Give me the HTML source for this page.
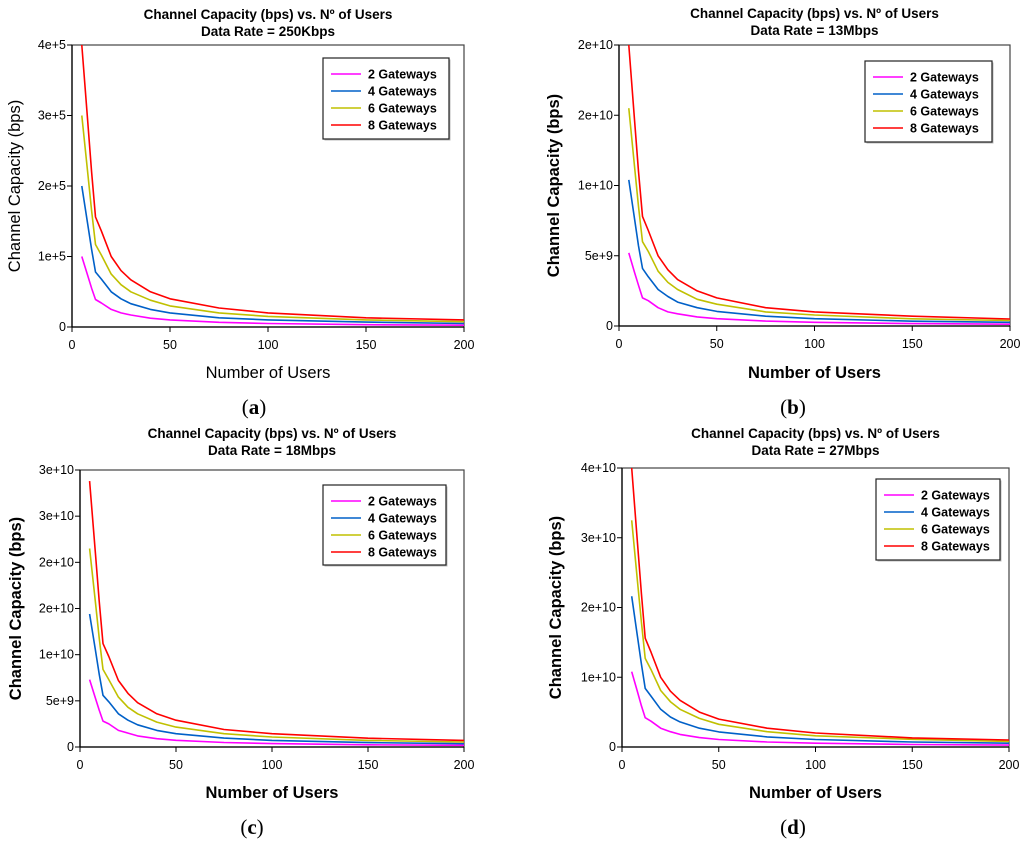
<!DOCTYPE html>
<html><head><meta charset="utf-8">
<style>
html,body{margin:0;padding:0;background:#fff;}
svg{display:block;font-family:"Liberation Sans",Arial,sans-serif;}
</style></head>
<body>
<svg id="fig" width="1024" height="842" viewBox="0 0 1024 842" xmlns="http://www.w3.org/2000/svg"></svg>
<script>
const users = [5,8,10,12,15,20,25,30,40,50,75,100,150,200];
const seriesNames = ["2 Gateways","4 Gateways","6 Gateways","8 Gateways"];
const xTicks = [0,50,100,150,200];
// panel (a) values in 1e3 bps
const a2 = [100,73,55,39,34,25,20,17,12.5,10,6.7,5,3.3,2.5];
const a4 = [200,146,110,78,68,50,40,33,25,20,13,10,7,5];
const a6 = [300,219,165,117,102,75,60,50,38,30,20,15,10,7.5];
const a8 = [400,292,220,156,136,100,80,67,50,40,27,20,13,10];
const aTickVals = [0,100,200,300,400];
const aTickLabels = ["0","1e+5","2e+5","3e+5","4e+5"];
// panel (b) values in 1e8 bps
const b2 = [52,38,29,20,18,13,10,8.7,6.5,5.2,3.5,2.6,1.7,1.3];
const b4 = [104,76,57,41,35,26,21,17,13,10.4,7,5.2,3.4,2.6];
const b6 = [155,113,85,60,53,39,31,26,19,15.5,10,7.8,5.1,3.9];
const b8 = [200,146,110,78,68,50,40,33,25,20,13,10,7,5];
const bTickVals = [0,50,100,150,200];
const bTickLabels = ["0","5e+9","1e+10","2e+10","2e+10"];
// panel (c) values in 1e8 bps
const c2 = [73,53,40,28,25,18,15,12,9,7.3,4.9,3.7,2.4,1.8];
const c4 = [144,105,79,56,49,36,29,24,18,14.4,9.6,7.2,4.8,3.6];
const c6 = [215,157,118,84,73,54,43,36,27,21.5,14.4,10.8,7.1,5.4];
const c8 = [288,210,158,112,98,72,58,48,36,29,19,14.4,9.5,7.2];
const cTickVals = [0,50,100,150,200,250,300];
const cTickLabels = ["0","5e+9","1e+10","2e+10","2e+10","3e+10","3e+10"];
// panel (d) values in 1e8 bps
const d2 = [108,79,59,42,37,27,22,18,13.5,10.8,7.2,5.4,3.6,2.7];
const d4 = [216,158,119,84,73,54,43,36,27,21.6,14.5,10.8,7.1,5.4];
const d6 = [325,237,179,127,111,81,65,54,41,32.5,22,16,11,8];
const d8 = [400,292,220,156,136,100,80,67,50,40,27,20,13,10];
const dTickVals = [0,100,200,300,400];
const dTickLabels = ["0","1e+10","2e+10","3e+10","4e+10"];

const colors = ["#ff00ff","#0060c8","#c0c000","#ff0000"];
const NS = "http://www.w3.org/2000/svg";
const svg = document.getElementById("fig");
function mk(tag, attrs, parent, text){
  const e = document.createElementNS(NS, tag);
  for (const k in attrs) e.setAttribute(k, attrs[k]);
  if (text !== undefined) e.textContent = text;
  (parent||svg).appendChild(e);
  return e;
}
const panels = [
  {id:"a", rate:"250Kbps", L:72,R:464,T:45,B:327, ymax:400, tv:aTickVals, tl:aTickLabels, s:[a2,a4,a6,a8], leg:[323,58,126,81], boldY:false, tY:14, xlY:378, capX:254, capY:414, ylX:20},
  {id:"b", rate:"13Mbps", L:619,R:1010,T:45,B:326, ymax:200, tv:bTickVals, tl:bTickLabels, s:[b2,b4,b6,b8], leg:[865,61,127,81], boldY:true, tY:13, xlY:378, capX:793, capY:414, ylX:559},
  {id:"c", rate:"18Mbps", L:80,R:464,T:470,B:747, ymax:300, tv:cTickVals, tl:cTickLabels, s:[c2,c4,c6,c8], leg:[323,485,123,80], boldY:true, tY:433, xlY:798, capX:252, capY:834, ylX:21},
  {id:"d", rate:"27Mbps", L:622,R:1009,T:468,B:747, ymax:400, tv:dTickVals, tl:dTickLabels, s:[d2,d4,d6,d8], leg:[876,479,124,81], boldY:true, tY:433, xlY:798, capX:793, capY:834, ylX:561}
];
panels.forEach(p=>{
  const g = mk("g",{});
  
  
  const xs = v => p.L + (v/200)*(p.R-p.L);
  const ys = v => p.B - (v/p.ymax)*(p.B-p.T);
  const cx = (p.L+p.R)/2;
  const t1 = mk("text",{x:cx,y:p.tY+5,"text-anchor":"middle","font-size":"13.5","font-weight":"bold"},g,"Channel Capacity (bps) vs. Nº of Users");
  
  
  const t2 = mk("text",{x:cx,y:p.tY+22,"text-anchor":"middle","font-size":"13.5","font-weight":"bold"},g,"Data Rate = "+p.rate);
  
  
  mk("rect",{x:p.L,y:p.T,width:p.R-p.L,height:p.B-p.T,fill:"none",stroke:"#444","stroke-width":"1.2"},g);
  mk("line",{x1:p.L,y1:p.T,x2:p.L,y2:p.B,stroke:"#000","stroke-width":"1.3"},g);
  mk("line",{x1:p.L,y1:p.B,x2:p.R,y2:p.B,stroke:"#000","stroke-width":"1.3"},g);
  p.tv.forEach((v,i)=>{
    const y = ys(v);
    mk("line",{x1:p.L-5,y1:y,x2:p.L,y2:y,stroke:"#000"},g);
    const t = mk("text",{x:p.L-6,y:y+4,"text-anchor":"end","font-size":"12.5"},g,p.tl[i]);
    
    
  });
  xTicks.forEach(v=>{
    const x = xs(v);
    mk("line",{x1:x,y1:p.B,x2:x,y2:p.B+5,stroke:"#000"},g);
    const t = mk("text",{x:x,y:p.B+22,"text-anchor":"middle","font-size":"12.5"},g,String(v));
    
    
  });
  const xl = mk("text",{x:cx,y:p.xlY,"text-anchor":"middle","font-size":"16.5","font-weight":p.boldY?"bold":"normal"},g,"Number of Users");
  
  
  const ymid=(p.T+p.B)/2;
  const yl = mk("text",{x:p.ylX,y:ymid,"text-anchor":"middle","font-size":"16.5","font-weight":p.boldY?"bold":"normal",transform:"rotate(-90 "+p.ylX+" "+ymid+")"},g,"Channel Capacity (bps)");
  
  
  p.s.forEach((arr,si)=>{
    const pts = arr.map((v,i)=>xs(users[i]).toFixed(1)+","+ys(v).toFixed(1)).join(" ");
    const pl = mk("polyline",{points:pts,fill:"none",stroke:colors[si],"stroke-width":"1.6","stroke-linejoin":"round"},g);
    
    
  });
  const [lx,ly,lw,lh] = p.leg;
  const lg = mk("g",{},g);
  
  
  mk("rect",{x:lx+1.5,y:ly+1.5,width:lw,height:lh,fill:"#bbb"},lg);
  mk("rect",{x:lx,y:ly,width:lw,height:lh,fill:"#fff",stroke:"#222","stroke-width":"1.2"},lg);
  seriesNames.forEach((n,i)=>{
    const yy = ly+16+i*17;
    mk("line",{x1:lx+8,y1:yy,x2:lx+38,y2:yy,stroke:colors[i],"stroke-width":"1.6"},lg);
    const t = mk("text",{x:lx+45,y:yy+4.5,"font-size":"12.5","font-weight":"bold"},lg,n);
    
    
  });
  const cap = mk("text",{x:p.capX,y:p.capY,"text-anchor":"middle","font-size":"21","font-family":"Liberation Serif, serif"},g);
  
  
  mk("tspan",{},cap,"(");
  mk("tspan",{"font-weight":"bold"},cap,p.id);
  mk("tspan",{},cap,")");
});
</script>
</body></html>
